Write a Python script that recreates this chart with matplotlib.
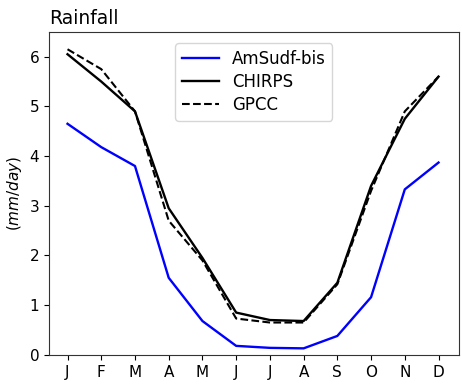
import numpy as np
import matplotlib.pyplot as plt

months = ['J', 'F', 'M', 'A', 'M', 'J', 'J', 'A', 'S', 'O', 'N', 'D']
amsudf = [4.65, 4.18, 3.80, 1.55, 0.68, 0.18, 0.14, 0.13, 0.38, 1.16, 3.33, 3.87]
chirps = [6.05, 5.50, 4.90, 2.95, 1.95, 0.85, 0.70, 0.68, 1.45, 3.40, 4.75, 5.60]
gpcc = [6.15, 5.75, 4.90, 2.70, 1.90, 0.73, 0.65, 0.65, 1.42, 3.30, 4.90, 5.60]

if __name__ == '__main__':
    x = np.arange(len(months))

    fig = plt.figure(figsize=(4.62, 3.84), dpi=100)
    ax = fig.add_axes([0.106, 0.076, 0.887, 0.841])
    ax.plot(x, amsudf, 'b', linewidth=1.7, label='AmSudf-bis')
    ax.plot(x, chirps, 'k', linewidth=1.7, label='CHIRPS')
    ax.plot(x, gpcc, 'k--', linewidth=1.5, label='GPCC')
    ax.set_xlim(-0.55, 11.6)
    ax.set_ylim(0, 6.5)
    ax.set_xticks(x)
    ax.set_xticklabels(months)
    ax.tick_params(labelsize=11)
    ax.set_ylabel('$(mm/day)$', fontsize=11)
    ax.set_title('Rainfall', loc='left', fontsize=13.5)
    for s in ax.spines.values():
        s.set_color('#333333')
    ax.legend(fontsize=12, loc='upper center', bbox_to_anchor=(0.5, 0.99),
              labelspacing=0.3, handlelength=2.2)
    fig.savefig('out.png')
